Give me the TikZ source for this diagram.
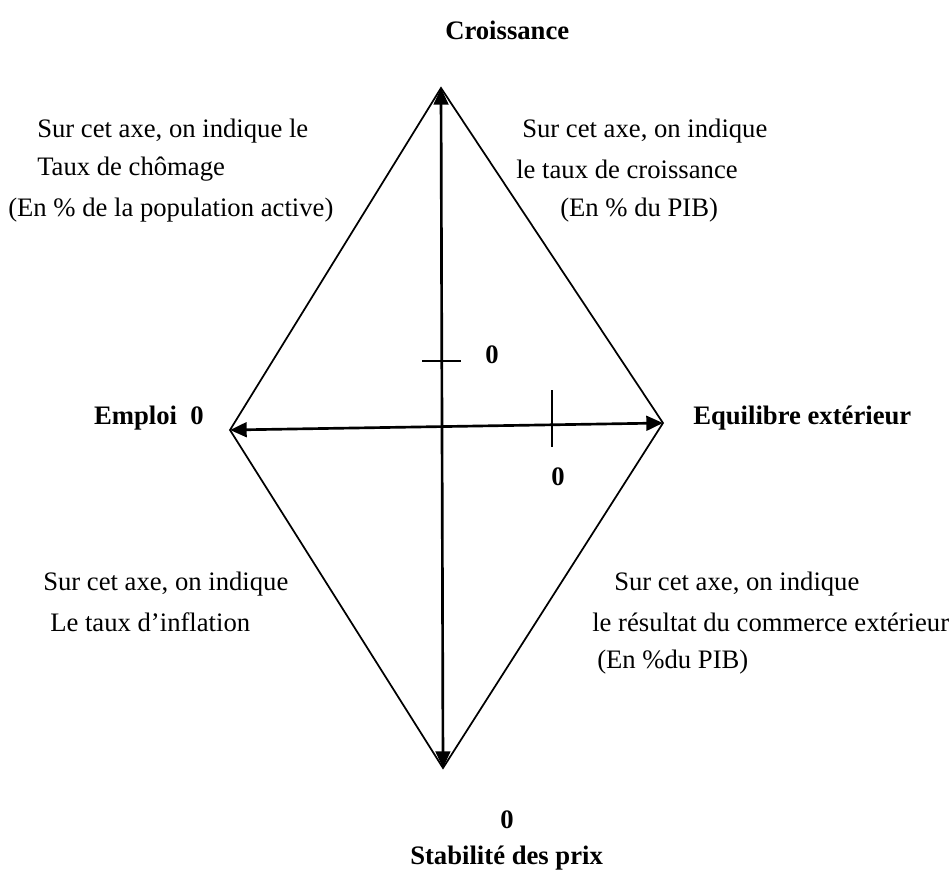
\documentclass[tikz,border=0pt]{standalone}
\usepackage{fontspec}
\setmainfont{Liberation Serif}
\usetikzlibrary{arrows.meta}
\tikzset{
  side/.style={draw=black,line width=1.3pt},
  axisline/.style={draw=black,line width=2pt,{Triangle[length=12.5pt,width=11pt]}-{Triangle[length=12.5pt,width=11pt]}},
  tick/.style={draw=black,line width=1.4pt},
  title/.style={font=\bfseries\fontsize{20}{24}\selectfont,inner sep=0pt},
  note/.style={font=\fontsize{20}{24}\selectfont,inner sep=0pt,anchor=west}
}
\begin{document}
\begin{tikzpicture}[x=0.75pt,y=-0.75pt]
  \useasboundingbox (0,0) rectangle (949,878);
  % sommets du losange
  \coordinate (top) at (441,88);
  \coordinate (left) at (230,430);
  \coordinate (right) at (663,423);
  \coordinate (bottom) at (443,768);
  \draw[side] (top)--(left)--(bottom)--(right)--cycle;
  \draw[axisline] (bottom)--(top);
  \draw[axisline] (right)--(left);
  % graduations
  \coordinate (tickva) at (422,361); \coordinate (tickvb) at (461,361);
  \coordinate (tickha) at (552,390); \coordinate (tickhb) at (552,447);
  \draw[tick] (tickva)--(tickvb);
  \draw[tick] (tickha)--(tickhb);
  % titres des axes
  \node[title,anchor=west] (croiss) at (445,30) {Croissance};
  \node[title,anchor=east] (emploi) at (204,418) {Emploi\ \ 0};
  \node[title,anchor=west] (equil) at (693,418) {Equilibre extérieur};
  \node[title,anchor=west] (stab) at (410,858) {Stabilité des prix};
  \node[title] (zeroc) at (492,355) {0};
  \node[title] (zeroe) at (558,477) {0};
  \node[title] (zeros) at (507,820) {0};
  % commentaires
  \node[note] (nwa) at (37,131) {Sur cet axe, on indique le};
  \node[note] (nwb) at (37,169) {Taux de chômage};
  \node[note] (nwc) at (8,210) {(En \% de la population active)};
  \node[note] (nea) at (522,131) {Sur cet axe, on indique};
  \node[note] (neb) at (516,169) {le taux de croissance};
  \node[note] (nec) at (560,210) {(En \% du PIB)};
  \node[note] (swa) at (43,584) {Sur cet axe, on indique};
  \node[note] (swb) at (50,622) {Le taux d’inflation};
  \node[note] (sea) at (614,584) {Sur cet axe, on indique};
  \node[note] (seb) at (592,622) {le résultat du commerce extérieur};
  \node[note] (sec) at (597,662) {(En \%du PIB)};
\end{tikzpicture}
\end{document}
